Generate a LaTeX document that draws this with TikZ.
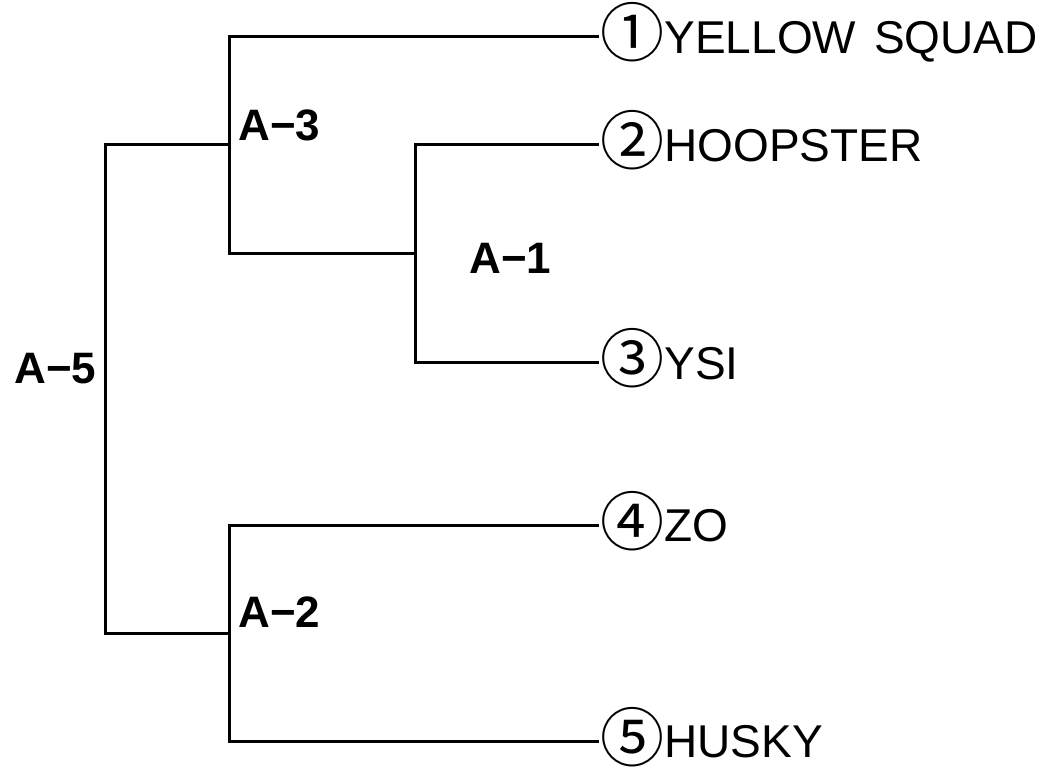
\documentclass[tikz,border=0pt]{standalone}
\usepackage{fontspec}
\setmainfont{Liberation Sans}
\newfontfamily\cjk{Noto Sans CJK JP}
\newcommand{\circnum}[1]{\raisebox{-3.5pt}{\cjk\fontsize{64}{64}\selectfont #1}}
\begin{document}
\begin{tikzpicture}[x=1pt,y=-1pt,
  line width=3pt,
  leaf/.style={anchor=west,inner sep=0pt,font=\fontsize{46}{46}\selectfont,text height=33pt,text depth=0pt},
  grp/.style={anchor=west,inner sep=0pt,font=\fontsize{44}{44}\selectfont\bfseries,text height=31.5pt,text depth=0pt}]
\useasboundingbox (0,0) rectangle (1045,767);
\node[leaf] (l1) at (599,37) {\circnum{①}YELLOW\hspace{18pt}SQUAD};
\node[leaf] (l2) at (599,145) {\circnum{②}HOOPSTER};
\node[leaf] (l3) at (599,363) {\circnum{③}YSI};
\node[leaf] (l4) at (599,525) {\circnum{④}ZO};
\node[leaf] (l5) at (599,741) {\circnum{⑤}HUSKY};
\coordinate (j3) at (229,254);
\coordinate (j1) at (415,254);
\coordinate (j3t) at (229,145);
\coordinate (j2) at (229,633);
\coordinate (j5) at (105,400);
\draw (l1.west) -| (j3) -- (j1);
\draw (l2.west) -| (j1) |- (l3.west);
\draw (l4.west) -| (j2) |- (l5.west);
\draw (j3t) -| (j5) |- (j2);
\node[grp] (a3) at (237,125) {A−3};
\node[grp] (a1) at (468,258) {A−1};
\node[grp] (a5) at (13,368) {A−5};
\node[grp] (a2) at (237,612) {A−2};
\end{tikzpicture}
\end{document}
